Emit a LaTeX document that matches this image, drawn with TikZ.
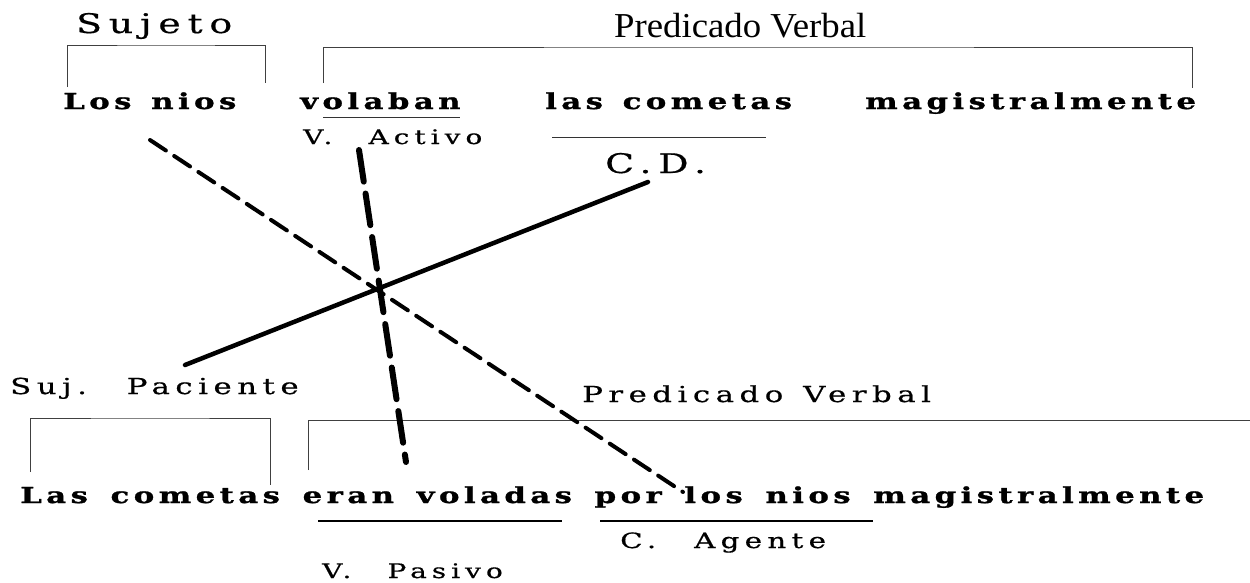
\documentclass[tikz,border=0pt]{standalone}
\usepackage{fontspec}
\setmainfont{DejaVu Serif}
\newfontfamily\widebold[FakeStretch=1.4,LetterSpace=20,WordSpace=1.3,FakeBold=1.2]{DejaVu Serif Bold}
\newfontfamily\widereg[FakeStretch=1.4,LetterSpace=25,WordSpace=1.3,FakeBold=0.6]{DejaVu Serif}
\newfontfamily\condfont[FakeStretch=1.05]{Liberation Serif}
\newcommand{\xs}{\hspace{3pt}}
\begin{document}
\begin{tikzpicture}[x=1pt,y=-1pt,
  txt/.style={inner sep=0pt,anchor=base west},
  bigb/.style={txt,font=\widebold\fontsize{22}{24}\selectfont},
  reg/.style={txt,font=\widereg\fontsize{21}{24}\selectfont},
  brk/.style={line width=1pt,black!75},
  thinul/.style={line width=1pt,black!80},
  thickul/.style={line width=2.6pt},
  dashA/.style={line width=4pt,dash pattern=on 19pt off 10pt,line cap=round},
  dashB/.style={line width=6pt,dash pattern=on 32pt off 12pt,line cap=round},
  solidC/.style={line width=4.5pt,line cap=round}]
\useasboundingbox (0,0) rectangle (1250,582);
% top row
\node[txt,font=\widereg\fontsize{27}{30}\selectfont] (sujeto) at (76,33) {Sujeto};
\node[txt,font=\condfont\fontsize{35}{38}\selectfont] (pv1) at (614,37) {Predicado Verbal};
\node[bigb] (losninos) at (63,109) {Los nios};
\node[bigb] (volaban) at (300,109) {volaban};
\node[bigb] (lascometas) at (545,109) {las cometas};
\node[bigb] (magis1) at (865,109) {magistralmente};
\node[reg,font=\widereg\fontsize{20}{24}\selectfont] (vactivo) at (303,144) {V.\ \ Activo};
\node[txt,font=\widereg\fontsize{27}{30}\selectfont] (cd) at (605,173) {C.D.};
% brackets top
\coordinate (b1a) at (67,87); \coordinate (b1b) at (265,83);
\draw[brk] (b1a) |- (166,45) -| (b1b);
\coordinate (b2a) at (323,83); \coordinate (b2b) at (1192,88);
\draw[brk] (b2a) |- (760,47) -| (b2b);
% underlines top
\coordinate (u1a) at (323,117); \coordinate (u1b) at (460,117);
\draw[thinul] (u1a) -- (u1b);
\coordinate (u2a) at (552,137); \coordinate (u2b) at (766,137);
\draw[thinul] (u2a) -- (u2b);
% bottom labels
\node[reg,font=\widereg\fontsize{22}{24}\selectfont] (sujpac) at (10,394) {Suj.\ \ Paciente};
\node[reg,font=\widereg\fontsize{22}{24}\selectfont] (pv2) at (582,402) {Predicado Verbal};
\node[bigb] (bottom) at (20,503) {Las\xs{} cometas\xs{} eran\xs{} voladas\xs{} por\xs{} los\xs{} nios\xs{} magistralmente};
\node[reg] (cagente) at (620,548) {C.\ \ Agente};
\node[reg,font=\widereg\fontsize{20}{24}\selectfont] (vpasivo) at (322,578) {V.\ \ Pasivo};
% brackets bottom
\coordinate (b3a) at (30,472); \coordinate (b3b) at (270,485);
\draw[brk] (b3a) |- (150,418) -| (b3b);
\coordinate (b4a) at (308,470); \coordinate (b4b) at (1250,420);
\draw[brk] (b4a) |- (b4b);
% underlines bottom
\coordinate (u3a) at (318,521); \coordinate (u3b) at (562,521);
\draw[thickul] (u3a) -- (u3b);
\coordinate (u4a) at (600,521); \coordinate (u4b) at (873,521);
\draw[thickul] (u4a) -- (u4b);
% crossing lines
\coordinate (dA1) at (150,140); \coordinate (dA2) at (683,492);
\draw[dashA] (dA1) -- (dA2);
\coordinate (dB1) at (359,150); \coordinate (dB2) at (406,462);
\draw[dashB] (dB1) -- (dB2);
\coordinate (sC1) at (185,365); \coordinate (sC2) at (648,182);
\draw[solidC] (sC1) -- (sC2);
\end{tikzpicture}
\end{document}
